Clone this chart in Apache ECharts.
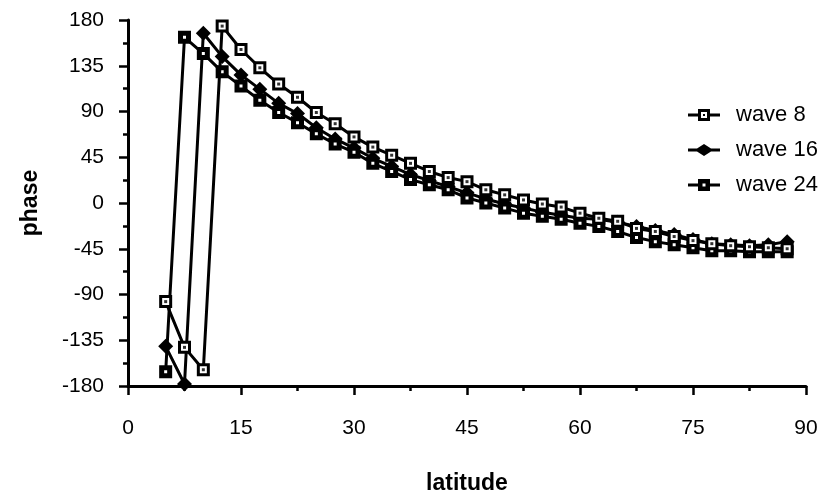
<!DOCTYPE html>
<html>
<head>
<meta charset="utf-8">
<script src="https://cdn.jsdelivr.net/npm/echarts@6/dist/echarts.min.js"></script>
<style>
html,body{margin:0;padding:0;background:#fff;}
#chart{width:830px;height:500px;}
</style>
</head>
<body>
<div id="chart"></div>
<script>
var latitude = [5,7.5,10,12.5,15,17.5,20,22.5,25,27.5,30,32.5,35,37.5,40,42.5,45,47.5,50,52.5,55,57.5,60,62.5,65,67.5,70,72.5,75,77.5,80,82.5,85,87.5];
var wave8  = [-97,-142,-164,174,151,133,117,104,89,78,65,55,47,39,31,25,21,13,8,3,-1,-4,-10,-15,-18,-25,-28,-33,-37,-40,-42,-43,-44,-45];
var wave16 = [-141,-178,167,144,126,112,98,88,74,63,54,44,36,28,22,16,10,4,-1,-5,-9,-12,-15,-16,-19,-23,-27,-31,-36,-40,-41,-42,-41,-38];
var wave24 = [-166,163,147,129,115,101,89,79,68,58,50,39,31,23,18,13,5,0,-5,-10,-13,-16,-20,-23,-28,-34,-38,-41,-44,-47,-47,-48,-48,-48];
var xTicks = [0,15,30,45,60,75,90];
var yTicks = [-180,-135,-90,-45,0,45,90,135,180];
var seriesNames = ['wave 8','wave 16','wave 24'];

function pairs(xs, ys){ return xs.map(function(x,i){ return [x, ys[i]]; }); }

var FONT = 'Liberation Sans';
var icon8  = 'path://M0 4.5H10V7.5H0Z M22 4.5H32V7.5H22Z M10 0H22V12H10Z M13 3V9H19V3Z M15 5H17V7H15Z';
var icon16 = 'path://M0 4.5H9L16 0L23 4.5H32V7.5H23L16 12L9 7.5H0Z';
var icon24 = 'path://M0 4.5H10V7.5H0Z M22 4.5H32V7.5H22Z M10 0H22V12H10Z M14.5 4.5V7.5H17.5V4.5Z';

var axisCommon = {
  axisLine:{show:true, onZero:false, lineStyle:{color:'#000', width:3}},
  axisTick:{show:true, length:9, lineStyle:{color:'#000', width:2.5}},
  minorTick:{show:true, splitNumber:2, length:5, lineStyle:{color:'#000', width:2.5}},
  splitLine:{show:false},
  minorSplitLine:{show:false}
};

var option = {
  animation:false,
  backgroundColor:'#fff',
  grid:{left:128, right:24, top:20, bottom:111, containLabel:false},
  xAxis: Object.assign({
    type:'value', min:xTicks[0], max:xTicks[xTicks.length-1], interval:15,
    name:'latitude', nameLocation:'middle', nameGap:86,
    nameTextStyle:{fontFamily:FONT, fontWeight:'bold', fontSize:23, color:'#000'},
    axisLabel:{fontFamily:FONT, fontSize:21, color:'#000', margin:32}
  }, axisCommon),
  yAxis: Object.assign({
    type:'value', min:yTicks[0], max:yTicks[yTicks.length-1], interval:45,
    name:'phase', nameLocation:'middle', nameGap:86,
    nameTextStyle:{fontFamily:FONT, fontWeight:'bold', fontSize:23, color:'#000'},
    axisLabel:{fontFamily:FONT, fontSize:21, color:'#000', margin:24}
  }, axisCommon),
  legend:{
    orient:'vertical', left:683, top:99, itemWidth:32, itemHeight:12, itemGap:13,
    selectedMode:false,
    textStyle:{fontFamily:FONT, fontSize:22, color:'#000', padding:[0,0,0,11]},
    data:[
      {name:seriesNames[0], icon:icon8, itemStyle:{color:'#000', borderWidth:0}},
      {name:seriesNames[1], icon:icon16, itemStyle:{color:'#000', borderWidth:0}},
      {name:seriesNames[2], icon:icon24, itemStyle:{color:'#000', borderWidth:0}}
    ]
  },
  series:[
    {
      name:seriesNames[0], type:'line', data:pairs(latitude, wave8), z:3,
      symbol:'rect', symbolSize:10, showAllSymbol:true,
      lineStyle:{color:'#000', width:3},
      itemStyle:{color:'#fff', borderColor:'#000', borderWidth:3},
      emphasis:{disabled:true}
    },
    {
      name:seriesNames[1], type:'line', data:pairs(latitude, wave16), z:2,
      symbol:'diamond', symbolSize:15, showAllSymbol:true,
      lineStyle:{color:'#000', width:3},
      itemStyle:{color:'#000'},
      emphasis:{disabled:true}
    },
    {
      name:seriesNames[2], type:'line', data:pairs(latitude, wave24), z:2,
      symbol:'rect', symbolSize:8, showAllSymbol:true,
      lineStyle:{color:'#000', width:3},
      itemStyle:{color:'#fff', borderColor:'#000', borderWidth:5},
      emphasis:{disabled:true}
    },
    {
      name:'wave 8 dot', type:'scatter', data:pairs(latitude, wave8), z:4,
      symbol:'rect', symbolSize:3, silent:true,
      itemStyle:{color:'#000'}
    }
  ]
};
var chart = echarts.init(document.getElementById('chart'), null, {renderer:'canvas'});
chart.setOption(option);
</script>
</body>
</html>
